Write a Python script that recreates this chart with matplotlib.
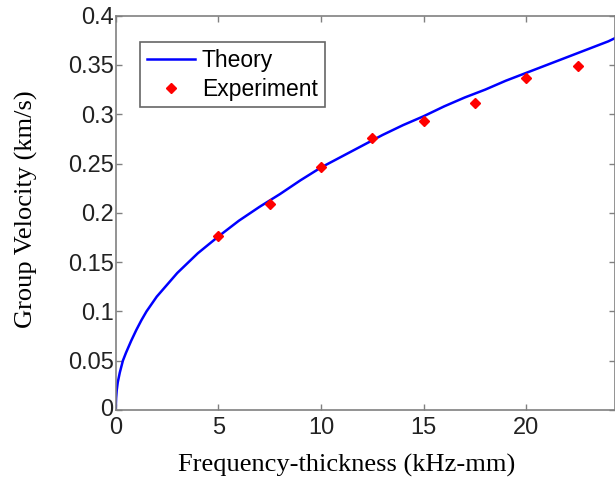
import matplotlib
matplotlib.use("Agg")
import matplotlib.pyplot as plt
import matplotlib.transforms as mtransforms

# Theory curve
theory_x = [0, 0.02, 0.05, 0.1, 0.2, 0.35, 0.5, 0.75, 1, 1.25, 1.5, 2, 2.5, 3, 3.5, 4, 5, 6, 7, 8, 9, 10,
            11, 12, 13, 14, 15, 16, 17, 18, 19, 20, 21, 22, 23, 24, 24.3]
theory_y = [0, 0.012, 0.020, 0.028, 0.038, 0.050, 0.058, 0.070, 0.081, 0.091, 0.100, 0.115, 0.127,
            0.139, 0.149, 0.159, 0.176, 0.192, 0.206, 0.219, 0.233, 0.246, 0.257, 0.268, 0.279,
            0.289, 0.298, 0.308, 0.317, 0.325, 0.334, 0.342, 0.350, 0.358, 0.366, 0.374, 0.377]

# Experiment points
exp_x = [5, 7.5, 10, 12.5, 15, 17.5, 20, 22.5]
exp_y = [0.177, 0.209, 0.247, 0.276, 0.293, 0.311, 0.337, 0.349]

xticks = [0, 5, 10, 15, 20]
yticks = [0, 0.05, 0.1, 0.15, 0.2, 0.25, 0.3, 0.35, 0.4]
ytick_labels = ["0", "0.05", "0.1", "0.15", "0.2", "0.25", "0.3", "0.35", "0.4"]

W, H = 615, 478
fig = plt.figure(figsize=(W / 100, H / 100), dpi=100)
L, R, T, B = 115.7, 614.5, 15.7, 410
ax = fig.add_axes([L / W, 1 - B / H, (R - L) / W, (B - T) / H])

ax.plot(theory_x, theory_y, color="#0000ff", lw=1.8, label="Theory")
ax.plot(exp_x, exp_y, linestyle="none", marker="D", markersize=5.5, color="#ff0000",
        label="Experiment")

ax.set_xlim(0, 24.3)
ax.set_ylim(0, 0.4)
ax.set_xticks(xticks)
ax.set_xticklabels([str(t) for t in xticks])
ax.set_yticks(yticks)
ax.set_yticklabels(ytick_labels)

for lab in ax.get_xticklabels() + ax.get_yticklabels():
    lab.set_fontfamily("Liberation Sans")
    lab.set_fontsize(17)
    lab.set_color("#222222")

ax.tick_params(direction="in", length=4, width=1, color="#808080", top=True, right=True)
ax.tick_params(axis="y", pad=1.5)
ax.tick_params(axis="x", pad=5)
for s in ax.spines.values():
    s.set_color("#808080")
    s.set_linewidth(1.2)

# nudge the y-axis "0" label up slightly so it doesn't collide with the x-axis "0"
fig.canvas.draw()
ylab0 = ax.yaxis.get_major_ticks()[0].label1
ylab0.set_transform(ylab0.get_transform() + mtransforms.ScaledTranslation(0, 3 / 100, fig.dpi_scale_trans))

fig.text(347 / W, 1 - 465 / H, "Frequency-thickness (kHz-mm)", family="Liberation Serif",
         fontsize=19, ha="center", va="center")
fig.text(26 / W, 1 - 209 / H, "Group Velocity (km/s)", family="Liberation Serif",
         fontsize=19, ha="center", va="center", rotation=90)

leg = ax.legend(loc="upper left", bbox_to_anchor=((140 - L) / (R - L), 1 - (42 - T) / (B - T)),
                prop=dict(family="Liberation Sans", size=16.5), frameon=True, fancybox=False,
                edgecolor="#404040", handlelength=2.1, borderpad=0.3, labelspacing=0.25,
                handletextpad=0.3, borderaxespad=0)
leg.get_frame().set_linewidth(1.2)

fig.savefig("out.png", dpi=100)
